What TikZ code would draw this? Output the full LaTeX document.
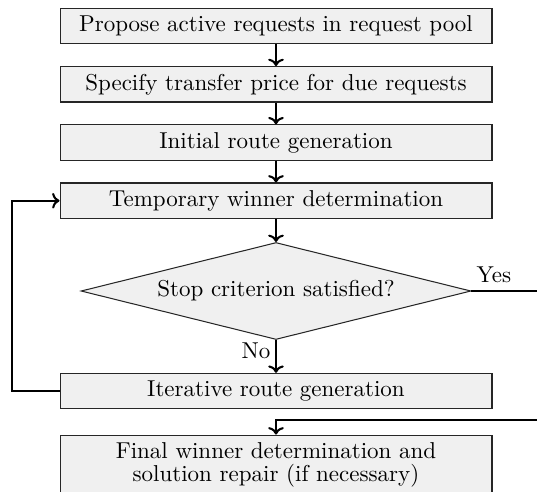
\documentclass[tikz,border=0pt]{standalone}
\usetikzlibrary{shapes.geometric,arrows.meta}
\definecolor{boxfill}{HTML}{F0F0F0}
\tikzset{
  procbox/.style={draw=black!85, fill=boxfill, line width=0.45pt,
    minimum width=187.9pt, minimum height=15.4pt, inner sep=0pt, font=\fontsize{10}{12}\selectfont},
  decbox/.style={draw=black!85, fill=boxfill, line width=0.45pt, shape=diamond,
    aspect=4.02, minimum width=169.6pt, minimum height=42.2pt, inner sep=0pt, font=\fontsize{10}{12}\selectfont},
  conn/.style={line width=0.9pt, -{To[length=3.2pt,width=6.8pt]}},
  plainconn/.style={line width=0.9pt},
  lbl/.style={font=\fontsize{10}{12}\selectfont}
}
\begin{document}
\begin{tikzpicture}[x=0.435pt,y=-0.435pt]
\useasboundingbox (0,0) rectangle (537,491);
\clip (0,0) rectangle (537,491);
\node[procbox] (b1) at (276,26) {Propose active requests in request pool};
\node[procbox] (b2) at (276,84.3) {Specify transfer price for due requests};
\node[procbox] (b3) at (276,142.5) {Initial route generation};
\node[procbox] (b4) at (276,200.7) {Temporary winner determination};
\node[decbox] (d) at (276,291) {Stop criterion satisfied?};
\node[procbox] (b5) at (276,391) {Iterative route generation};
\node[procbox, minimum height=34.8pt, anchor=north] (b6) at (276,434.5) {};
\node[lbl, align=center, inner sep=0pt, font=\fontsize{10}{10}\selectfont] (b6t) at (276,465)
  {Final winner determination and\\solution repair (if necessary)};
\coordinate (yesend) at (545,291);
\coordinate (loopbot) at (12,391);
\coordinate (looptop) at (12,200.7);
\coordinate (rin) at (545,420);
\coordinate (rturn) at (276,420);
\draw[conn] (b1) -- (b2);
\draw[conn] (b2) -- (b3);
\draw[conn] (b3) -- (b4);
\draw[conn] (b4) -- (d);
\draw[conn] (d) -- node[lbl, pos=0.33, anchor=east, inner sep=2pt] (no) {No} (b5);
\draw[plainconn] (d.east) -- (yesend);
\node[lbl, anchor=south west, inner xsep=2pt, inner ysep=3.3pt] (yes) at (d.east) {Yes};
\draw[conn] (b5.west) -- (loopbot) -- (looptop) -- (b4.west);
\draw[conn] (rin) -- (rturn) -- (b6.north);
\end{tikzpicture}
\end{document}
